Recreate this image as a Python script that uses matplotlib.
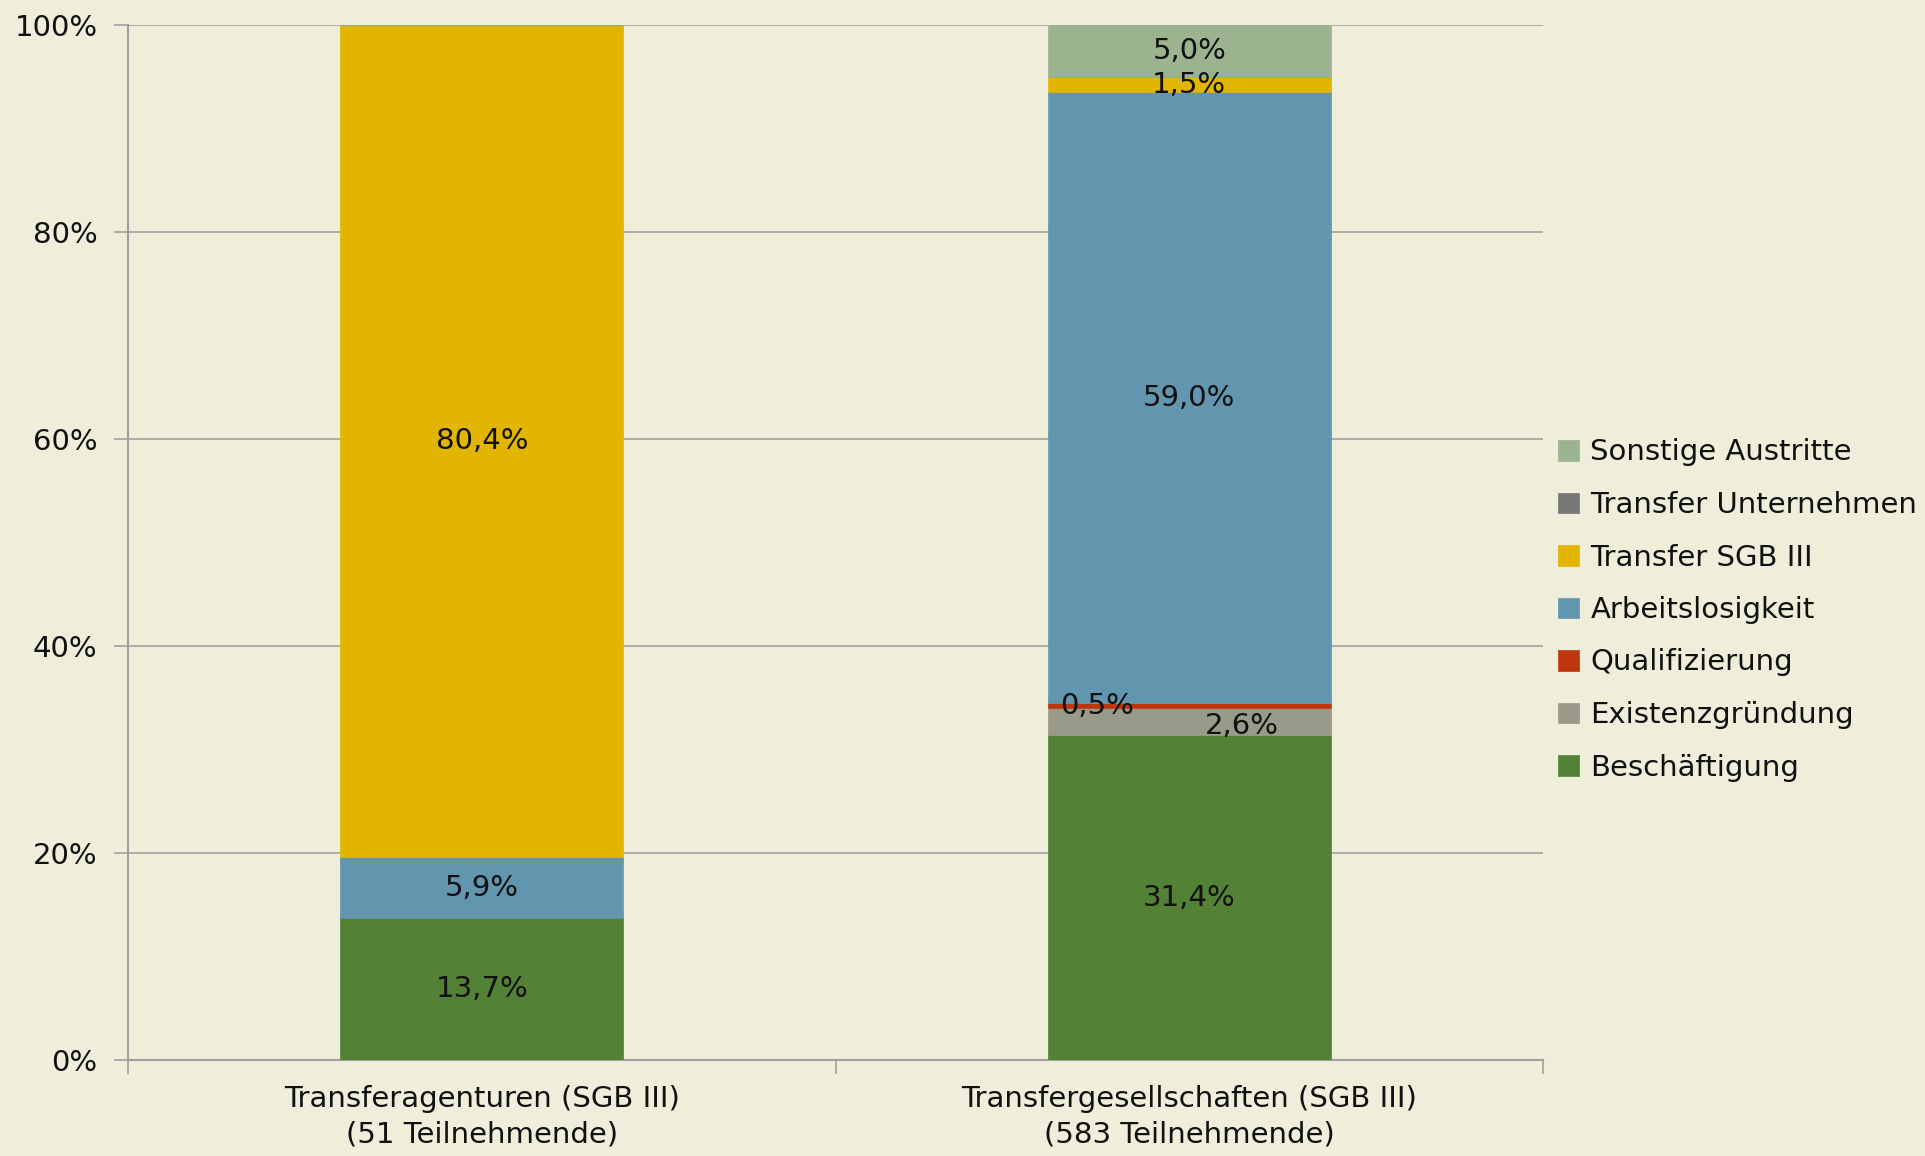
import matplotlib
matplotlib.use("Agg")
import matplotlib.pyplot as plt
import numpy as np

categories = ["Transferagenturen (SGB III)\n(51 Teilnehmende)",
              "Transfergesellschaften (SGB III)\n(583 Teilnehmende)"]
series_names = ["Beschäftigung", "Existenzgründung", "Qualifizierung",
                "Arbeitslosigkeit", "Transfer SGB III", "Transfer Unternehmen",
                "Sonstige Austritte"]
beschaeftigung = [13.7, 31.4]
existenzgruendung = [0.0, 2.6]
qualifizierung = [0.0, 0.5]
arbeitslosigkeit = [5.9, 59.0]
transfer_sgb = [80.4, 1.5]
transfer_unternehmen = [0.0, 0.0]
sonstige = [0.0, 5.0]
yticks = [0, 20, 40, 60, 80, 100]

series = [beschaeftigung, existenzgruendung, qualifizierung, arbeitslosigkeit,
          transfer_sgb, transfer_unternehmen, sonstige]
colors = ["#538135", "#9a9a8a", "#c0360c", "#6196ae", "#e2b600", "#777777", "#9bb38e"]

bg = "#eeeeda"
FS = 21
plt.rcParams['font.family'] = ['DejaVu Sans']
fig = plt.figure(figsize=(19.25, 11.56), dpi=100, facecolor=bg)
ax = fig.add_axes([128/1925, 1-1060/1156, (1543-128)/1925, (1060-25)/1156])
ax.set_facecolor(bg)

x = np.arange(len(categories))
bottom = np.zeros(len(categories))
handles = []
# label offsets (in data x units) for thin segments
xoff = {(1, 2): -0.13, (1, 1): 0.075}
yoff = {(1, 1): -0.4}
for i, (vals, c, name) in enumerate(zip(series, colors, series_names)):
    vals = np.array(vals)
    h = ax.bar(x, vals, width=0.40, bottom=bottom, color=c, label=name, zorder=3,
               edgecolor=c, linewidth=0.5)
    handles.append(h)
    for j, v in enumerate(vals):
        if v > 0:
            lab = f"{v:.1f}".replace(".", ",") + "%"
            ax.text(x[j] + xoff.get((j, i), 0), bottom[j] + v / 2 + yoff.get((j, i), 0), lab,
                    ha="center", va="center", fontsize=FS, color="#111111", zorder=5)
    bottom += vals

ax.set_xlim(-0.5, 1.5)
ax.set_ylim(0, 100)
ax.set_yticks(yticks)
ax.set_yticklabels([f"{t}%" for t in yticks], fontsize=FS, color="#111111")
ax.yaxis.grid(True, color="#a0a0a0", linewidth=1.2, zorder=0)
ax.set_xticks([-0.5, 0.5, 1.5])
ax.set_xticklabels([])
ax.set_xticks(x, minor=True)
ax.set_xticklabels(categories, minor=True, fontsize=FS, color="#111111", linespacing=1.35)
ax.tick_params(axis="x", which="minor", length=0, pad=18)
ax.tick_params(axis="x", which="major", length=10, color="#a0a0a0", width=1.2)
ax.tick_params(axis="y", length=10, color="#a0a0a0", width=1.2, pad=12)
for s in ["top", "right"]:
    ax.spines[s].set_visible(False)
for s in ["left", "bottom"]:
    ax.spines[s].set_color("#a0a0a0")
    ax.spines[s].set_linewidth(1.5)

leg = fig.legend(handles[::-1], series_names[::-1], loc="center left",
                 bbox_to_anchor=(1532/1925, 1-610/1156), frameon=False,
                 fontsize=FS, handlelength=0.7, handleheight=0.7,
                 handletextpad=0.4, labelspacing=0.84)
for t in leg.get_texts():
    t.set_color("#111111")

fig.savefig("out.png", dpi=100, facecolor=bg)
